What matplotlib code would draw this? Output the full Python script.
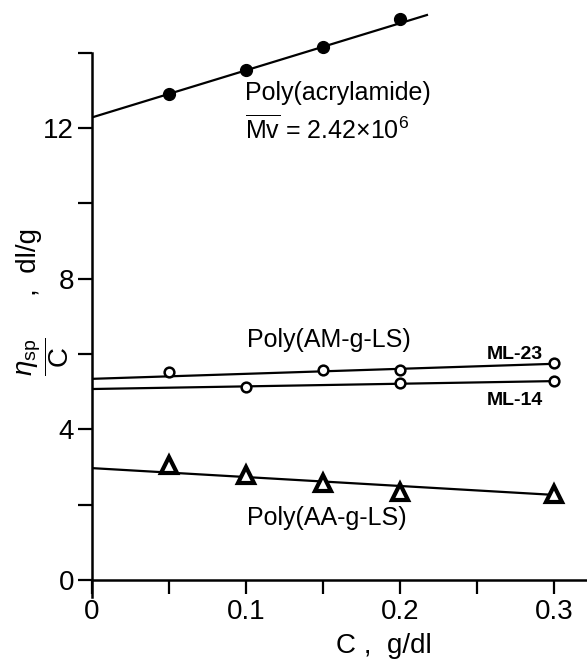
import matplotlib
matplotlib.use("Agg")
import matplotlib.pyplot as plt
import numpy as np

plt.rcParams['font.family'] = ['Liberation Sans', 'DejaVu Sans']
plt.rcParams['mathtext.fontset'] = 'custom'
plt.rcParams['mathtext.rm'] = 'Liberation Sans'
plt.rcParams['mathtext.it'] = 'Liberation Sans:italic'
plt.rcParams['mathtext.bf'] = 'Liberation Sans:bold'

# Poly(acrylamide)
pam_c = [0.05, 0.10, 0.15, 0.20]
pam_eta = [12.89, 13.53, 14.16, 14.88]
pam_fit = [12.28, 12.5]     # intercept, slope
pam_fit_end = 0.2175

# Poly(AM-g-LS) ML-23
ml23_c = [0.05, 0.15, 0.20, 0.30]
ml23_eta = [5.52, 5.57, 5.57, 5.76]
ml23_fit = [5.34, 1.33]

# Poly(AM-g-LS) ML-14
ml14_c = [0.10, 0.20, 0.30]
ml14_eta = [5.12, 5.22, 5.28]
ml14_fit = [5.07, 0.70]

# Poly(AA-g-LS)
paa_c = [0.05, 0.10, 0.15, 0.20, 0.30]
paa_eta = [3.05, 2.79, 2.57, 2.34, 2.28]
paa_fit = [2.97, -2.37]

x_ticks = [0, 0.05, 0.10, 0.15, 0.20, 0.25, 0.30]
x_labels = ['0', '', '0.1', '', '0.2', '', '0.3']
y_ticks = [0, 2, 4, 6, 8, 10, 12, 14]
y_labels = ['0', '', '4', '', '8', '', '12', '']

W, H = 587, 662
fig = plt.figure(figsize=(W / 100, H / 100), dpi=100)
ax = fig.add_axes([92 / W, 82 / H, 495 / W, 580 / H])
ax.set_xlim(0, 495 / 1540)
ax.set_ylim(0, 580 / 37.67)

def fit_line(fit, x_end):
    xs = np.array([0, x_end])
    return xs, fit[0] + fit[1] * xs

lw = 1.6
xs, ys = fit_line(pam_fit, pam_fit_end)
ax.plot(xs, ys, color='black', lw=lw)
ax.plot(pam_c, pam_eta, 'o', color='black', ms=8.5)

xs, ys = fit_line(ml23_fit, 0.30)
ax.plot(xs, ys, color='black', lw=lw)
ax.plot(ml23_c, ml23_eta, 'o', mfc='white', mec='black', mew=1.8, ms=7)

xs, ys = fit_line(ml14_fit, 0.30)
ax.plot(xs, ys, color='black', lw=lw)
ax.plot(ml14_c, ml14_eta, 'o', mfc='white', mec='black', mew=1.8, ms=7)

xs, ys = fit_line(paa_fit, 0.30)
ax.plot(xs, ys, color='black', lw=lw)
ax.plot(paa_c, paa_eta, '^', mfc='white', mec='black', mew=3.0, ms=11)

ax.spines['top'].set_visible(False)
ax.spines['right'].set_visible(False)
ax.spines['left'].set_linewidth(1.8)
ax.spines['bottom'].set_linewidth(1.8)
ax.spines['left'].set_bounds(-0.45, 14)

ax.set_xticks(x_ticks, x_labels, fontsize=20)
ax.set_yticks(y_ticks, y_labels, fontsize=20)
ax.tick_params(axis='both', direction='out', length=10, width=1.6)
ax.tick_params(axis='x', pad=4)
ax.tick_params(axis='y', pad=3)

ax.text(0.0994, 12.74, 'Poly(acrylamide)', fontsize=18)
ax.text(0.0994, 11.73, r'$\overline{\mathrm{Mv}}$ = 2.42$\times$10$^{6}$', fontsize=18)
ax.text(0.1006, 6.19, 'Poly(AM-g-LS)', fontsize=18)
ax.text(0.1006, 1.46, 'Poly(AA-g-LS)', fontsize=18)
ax.text(0.2565, 5.87, 'ML-23', fontsize=14, fontweight='bold')
ax.text(0.2565, 4.65, 'ML-14', fontsize=14, fontweight='bold')

fig.text(384 / W, 1 - 646 / H, 'C ,  g/dl', fontsize=20, ha='center', va='center')
fig.text(43 / W, 1 - 357 / H, r'$\dfrac{\eta_{\mathrm{sp}}}{\mathrm{C}}$', fontsize=20,
         rotation=90, ha='center', va='center')
fig.text(29 / W, 1 - 262 / H, ',  dl/g', fontsize=20,
         rotation=90, ha='center', va='center')

fig.savefig('out.png', dpi=100)
